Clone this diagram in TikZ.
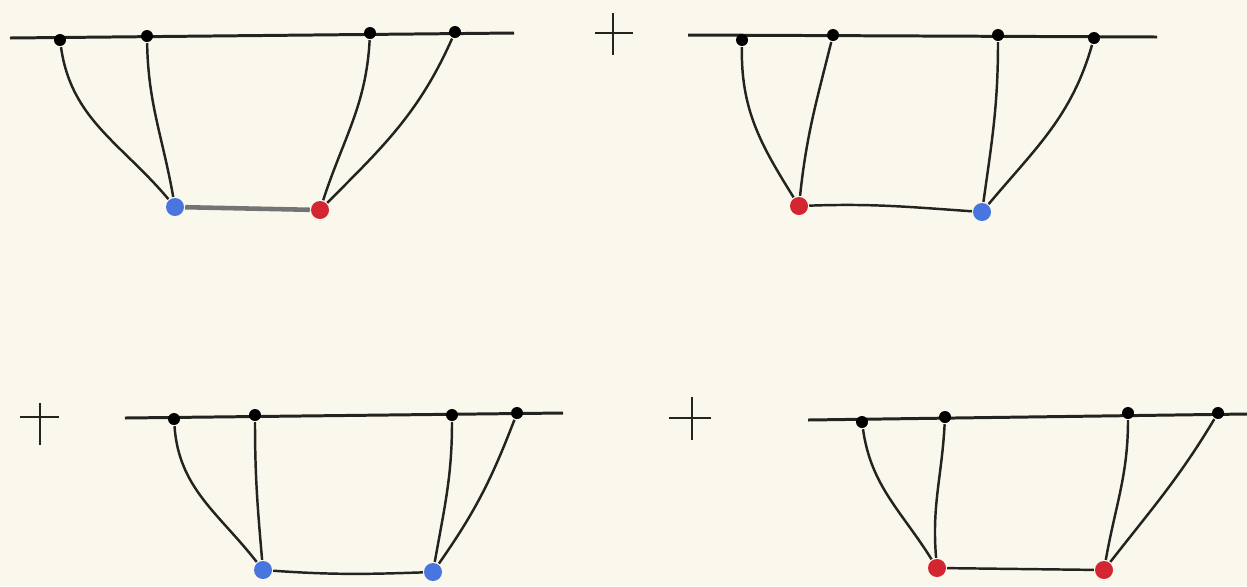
\documentclass[tikz,border=0pt]{standalone}
\definecolor{papel}{RGB}{250,247,237}
\definecolor{azul}{RGB}{72,118,222}
\definecolor{rojo}{RGB}{212,38,50}
\definecolor{trazo}{RGB}{35,35,32}
\begin{document}
\begin{tikzpicture}[x=0.02cm, y=-0.02cm, line width=1.4pt, trazo,
  punto/.style={circle, fill=black, inner sep=0pt, minimum size=0.24cm},
  pazul/.style={circle, fill=azul, inner sep=0pt, minimum size=0.36cm},
  projo/.style={circle, fill=rojo, inner sep=0pt, minimum size=0.36cm}]
  % Fondo
  \fill[papel] (0,0) rectangle (1247,586);
  \useasboundingbox (0,0) rectangle (1247,586);
  % Primer diagrama
  \coordinate (i1) at (10,38);
  \coordinate (f1) at (514,33);
  \draw[line width=1.7pt] (i1) -- (f1);
  \node[punto] (a1) at (60,40) {};
  \node[punto] (b1) at (147,36) {};
  \node[punto] (c1) at (370,33) {};
  \node[punto] (d1) at (455,32) {};
  \node[pazul] (u1) at (175,207) {};
  \node[projo] (v1) at (320,210) {};
  \draw[line width=2.6pt, black!55] (u1) -- (v1);
  % Segundo diagrama
  \draw[line width=1.3pt] (595,33) -- (633,33);
  \draw[line width=1.3pt] (613,13) -- (613,55);
  \coordinate (i2) at (688,35);
  \coordinate (f2) at (1157,37);
  \draw[line width=1.7pt] (i2) -- (f2);
  \node[punto] (a2) at (742,40) {};
  \node[punto] (b2) at (833,35) {};
  \node[punto] (c2) at (998,35) {};
  \node[punto] (d2) at (1094,38) {};
  \node[projo] (u2) at (799,206) {};
  \node[pazul] (v2) at (982,212) {};
  \draw (u2) to[out=2,in=176] (v2);
  % Tercer diagrama
  \draw[line width=1.3pt] (20,417) -- (59,417);
  \draw[line width=1.3pt] (40,403) -- (40,445);
  \coordinate (i3) at (125,418);
  \coordinate (f3) at (563,413);
  \draw[line width=1.7pt] (i3) -- (f3);
  \node[punto] (a3) at (174,419) {};
  \node[punto] (b3) at (255,415) {};
  \node[punto] (c3) at (452,415) {};
  \node[punto] (d3) at (517,413) {};
  \node[pazul] (u3) at (263,570) {};
  \node[pazul] (v3) at (433,572) {};
  \draw (u3) to[out=-4,in=182] (v3);
  % Cuarto diagrama
  \draw[line width=1.3pt] (669,418) -- (711,418);
  \draw[line width=1.3pt] (692,397) -- (692,440);
  \coordinate (i4) at (808,420);
  \coordinate (f4) at (1247,414);
  \draw[line width=1.7pt] (i4) -- (f4);
  \node[punto] (a4) at (862,422) {};
  \node[punto] (b4) at (945,417) {};
  \node[punto] (c4) at (1128,413) {};
  \node[punto] (d4) at (1218,413) {};
  \node[projo] (u4) at (937,568) {};
  \node[projo] (v4) at (1104,570) {};
  \draw (u4) -- (v4);
  % Propagadores
  \foreach \p/\q/\o/\e in {a1/u1/-82/130, b1/u1/-89/100, c1/v1/-93/72, d1/v1/-114/45,
      a2/u2/-91/122, b2/u2/-104/84, c2/v2/-90/82, d2/v2/-106/50,
      a3/u3/-86/128, b3/u3/-90/95, c3/v3/-90/80, d3/v3/-111/55,
      a4/u4/-82/122, b4/u4/-93/95, c4/v4/-90/80, d4/v4/-121/52}
    \draw (\p) to[out=\o,in=\e] (\q);
\end{tikzpicture}
\end{document}
